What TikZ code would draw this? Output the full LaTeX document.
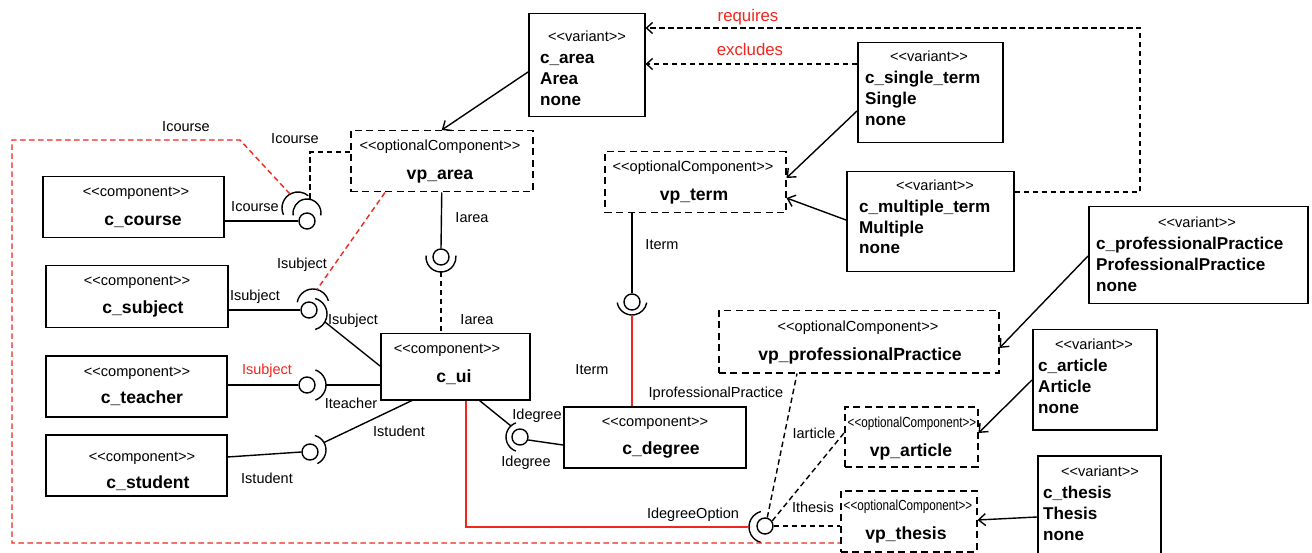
\documentclass[tikz,border=0pt]{standalone}
\usepackage{fontspec}
\usepackage{graphicx}
\setmainfont{Liberation Sans}[Ligatures=TeXOff]
\usetikzlibrary{arrows.meta}
\definecolor{relred}{RGB}{242,38,30}
\newcommand{\narrowtext}[1]{\scalebox{0.8}[1]{#1}}
\tikzset{
  boxbase/.style={draw, line width=1.5pt, inner sep=0pt, anchor=north west},
  solidbox/.style={boxbase},
  dashbox/.style={boxbase, dash pattern=on 7pt off 4.5pt},
  stereo/.style={font=\fontsize{14.6}{16}\selectfont, anchor=base, inner sep=0pt},
  cname/.style={font=\fontsize{17.6}{20}\selectfont\bfseries, anchor=base, inner sep=0pt},
  vline/.style={font=\fontsize{17.1}{20}\selectfont\bfseries, anchor=base west, inner sep=0pt},
  ilabel/.style={font=\fontsize{14.5}{16}\selectfont, anchor=base, inner sep=0pt},
  rlabel/.style={font=\fontsize{16.8}{19}\selectfont, anchor=base, inner sep=0pt, text=relred},
  ball/.style={circle, draw, line width=1.4pt, minimum size=16pt, inner sep=0pt, fill=white},
  wire/.style={line width=1.4pt},
  dwire/.style={wire, dash pattern=on 5.5pt off 3.5pt},
  rwire/.style={wire, draw=relred},
  rdwire/.style={dwire, draw=relred},
  socket/.style={line width=1.4pt},
  realize/.style={wire, -{Straight Barb[length=7pt,width=12pt,line width=1.4pt]}},
  constraint/.style={dwire, -{Straight Barb[length=6pt,width=11pt,line width=1.4pt]}},
}
\begin{document}
\begin{tikzpicture}[x=1pt, y=-1pt]
\useasboundingbox (0,0) rectangle (1312,553);
\fill[white] (0,0) rectangle (1312,553);

% ---- components ----
\node[solidbox, minimum width=181pt, minimum height=61pt] (course) at (42,176) {};
\node[stereo] (courseSt) at (136,197) {<<component>>};
\node[cname] (courseNm) at (143,226) {c\_course};

\node[solidbox, minimum width=182pt, minimum height=62pt] (subject) at (45,265) {};
\node[stereo] (subjectSt) at (137,286) {<<component>>};
\node[cname] (subjectNm) at (143,314) {c\_subject};

\node[solidbox, minimum width=181pt, minimum height=61pt] (teacher) at (45,355) {};
\node[stereo] (teacherSt) at (137,376) {<<component>>};
\node[cname] (teacherNm) at (142,403) {c\_teacher};

\node[solidbox, minimum width=181pt, minimum height=61pt] (student) at (45,434) {};
\node[stereo] (studentSt) at (142,461) {<<component>>};
\node[cname] (studentNm) at (148,488) {c\_student};

\node[solidbox, minimum width=149pt, minimum height=66pt] (ui) at (380,333) {};
\node[stereo] (uiSt) at (447,353) {<<component>>};
\node[cname] (uiNm) at (454,382) {c\_ui};

\node[solidbox, minimum width=182pt, minimum height=61pt] (degree) at (563,406) {};
\node[stereo] (degreeSt) at (655,426) {<<component>>};
\node[cname] (degreeNm) at (661,454) {c\_degree};

% ---- optional components ----
\node[dashbox, minimum width=182pt, minimum height=61pt] (area) at (350,130) {};
\node[stereo] (areaSt) at (440,151) {<<optionalComponent>>};
\node[cname] (areaNm) at (440,180) {vp\_area};

\node[dashbox, minimum width=181pt, minimum height=61pt] (term) at (604,151) {};
\node[stereo] (termSt) at (693,172) {<<optionalComponent>>};
\node[cname] (termNm) at (694,201) {vp\_term};

\node[dashbox, minimum width=280pt, minimum height=62pt] (prof) at (718,310) {};
\node[stereo] (profSt) at (858,332) {<<optionalComponent>>};
\node[cname] (profNm) at (860,360) {vp\_professionalPractice};

\node[dashbox, minimum width=133pt, minimum height=60pt] (article) at (844,406) {};
\node[stereo] (articleSt) at (912,427) {\narrowtext{<<optionalComponent>>}};
\node[cname] (articleNm) at (911,456) {vp\_article};

\node[dashbox, minimum width=136pt, minimum height=61pt] (thesis) at (840,490) {};
\node[stereo] (thesisSt) at (908,510) {\narrowtext{<<optionalComponent>>}};
\node[cname] (thesisNm) at (906,539) {vp\_thesis};

% ---- variants ----
\node[solidbox, minimum width=116pt, minimum height=103pt] (carea) at (528,13) {};
\node[stereo] (careaSt) at (587,42) {<<variant>>};
\node[vline] (careaA) at (540,64) {c\_area};
\node[vline] (careaB) at (540,85) {Area};
\node[vline] (careaC) at (540,106) {none};

\node[solidbox, minimum width=145pt, minimum height=100pt] (single) at (857,42) {};
\node[stereo] (singleSt) at (929,62) {<<variant>>};
\node[vline] (singleA) at (865,84) {c\_single\_term};
\node[vline] (singleB) at (865,105) {Single};
\node[vline] (singleC) at (865,126) {none};

\node[solidbox, minimum width=167pt, minimum height=100pt] (multiple) at (846,171) {};
\node[stereo] (multipleSt) at (935,191) {<<variant>>};
\node[vline] (multipleA) at (859,213) {c\_multiple\_term};
\node[vline] (multipleB) at (859,234) {Multiple};
\node[vline] (multipleC) at (859,254) {none};

\node[solidbox, minimum width=219pt, minimum height=97pt] (cprof) at (1088,206) {};
\node[stereo] (cprofSt) at (1197,228) {<<variant>>};
\node[vline] (cprofA) at (1096,250) {c\_professionalPractice};
\node[vline] (cprofB) at (1096,271) {ProfessionalPractice};
\node[vline] (cprofC) at (1096,292) {none};

\node[solidbox, minimum width=124pt, minimum height=100pt] (carticle) at (1032,329) {};
\node[stereo] (carticleSt) at (1094,349) {<<variant>>};
\node[vline] (carticleA) at (1038,371) {c\_article};
\node[vline] (carticleB) at (1038,392) {Article};
\node[vline] (carticleC) at (1038,413) {none};

\node[solidbox, minimum width=123pt, minimum height=101pt] (cthesis) at (1037,455) {};
\node[stereo] (cthesisSt) at (1100,476) {<<variant>>};
\node[vline] (cthesisA) at (1043,498) {c\_thesis};
\node[vline] (cthesisB) at (1043,519) {Thesis};
\node[vline] (cthesisC) at (1043,540) {none};

% ---- provided interfaces (balls) ----
\node[ball] (bCourse) at (307,221) {};
\node[ball] (bSubject) at (309,310) {};
\node[ball] (bTeacher) at (307,385) {};
\node[ball] (bStudent) at (310,452) {};
\node[ball] (bArea) at (441,257) {};
\node[ball] (bTerm) at (632,302) {};
\node[ball] (bDegree) at (520,437) {};
\node[ball] (bOption) at (765,526) {};

% ---- required interfaces (sockets) and their end points ----
\draw[socket] (307,213) ++(-190:14) arc[start angle=-190, end angle=10, radius=14];
\coordinate (sCourseA) at (310.1,199.4);
\draw[socket] (298,208) ++(-205:16) arc[start angle=-205, end angle=-50, radius=16];
\coordinate (sCourseB) at (290,194);
\draw[socket] (313,305) ++(-170:16) arc[start angle=-170, end angle=-15, radius=16];
\coordinate (sSubjA) at (317,289.5);
\draw[socket] (311,314) ++(-75:16) arc[start angle=-75, end angle=75, radius=16];
\coordinate (sSubjB) at (325,322);
\draw[socket] (310,385) ++(-70:16) arc[start angle=-70, end angle=70, radius=16];
\coordinate (sTeach) at (326,385);
\draw[socket] (311,450) ++(-75:15) arc[start angle=-75, end angle=65, radius=15];
\coordinate (sStud) at (324,442.5);
\draw[socket] (441,257) ++(-175:15) arc[start angle=-175, end angle=-365, radius=15];
\coordinate (sArea) at (441,272);
\draw[socket] (632,300) ++(-190:15) arc[start angle=-190, end angle=-350, radius=15];
\coordinate (sTerm) at (632,315);
\draw[socket] (521,437) ++(-110:15) arc[start angle=-110, end angle=-250, radius=15];
\coordinate (sDeg) at (511,426);
\draw[socket] (765,527) ++(-105:16) arc[start angle=-105, end angle=-255, radius=16];
\coordinate (sOpt) at (749,527);

% ---- assembly connectors ----
\draw[wire] (course.east |- bCourse) -- (bCourse.west);
\draw[dwire] (area.west |- 0,152) -| (sCourseA);
\coordinate (loopA) at (240,140);
\coordinate (loopB) at (12,140);
\coordinate (loopC) at (12,543);
\draw[rdwire] (sCourseB) -- (loopA) -- (loopB) -- (loopC) -- (thesis.west |- loopC);

\draw[wire] (subject.east |- bSubject) -- (bSubject.west);
\draw[rdwire] ([xshift=35pt]area.south west) -- (sSubjA);
\draw[wire] (sSubjB) -- (ui.west |- 0,366);

\draw[wire] (teacher.east |- bTeacher) -- (bTeacher.west);
\draw[wire] (sTeach) -- (ui.west |- sTeach);

\draw[wire] (student.east |- 0,457) -- (bStudent.west);
\draw[wire] (sStud) -- ([xshift=32pt]ui.south west);

\draw[wire] (area.south) -- (bArea.north);
\draw[dwire] (sArea) -- (ui.north -| sArea);

\draw[wire] (term.south -| bTerm) -- (bTerm.north);
\draw[rwire] (sTerm) -- (degree.north -| sTerm);

\draw[wire] (bDegree.-20) -- (degree.west |- 0,445);
\draw[wire] ([xshift=-51pt]ui.south east) -- (sDeg);

\draw[rwire] (ui.south -| 466,0) |- (sOpt);
\draw[dwire] (bOption.75) -- ([xshift=79pt]prof.south west);
\draw[dwire] (bOption.35) -- (article.west |- 0,433);
\draw[dwire] (bOption.east) -- (thesis.west |- bOption);

% ---- variant realisations ----
\draw[realize] (carea.west |- 0,72) -- (area.north);
\draw[realize] (single.west |- 0,111) -- (term.east |- 0,178);
\draw[realize] (multiple.west |- 0,220) -- (term.east |- 0,198);
\draw[realize] (cprof.west |- 0,256) -- (prof.east |- 0,348);
\draw[realize] (carticle.west |- 0,380) -- (article.east |- 0,433);
\draw[realize] (cthesis.west |- 0,517) -- (thesis.east |- 0,520);

% ---- variant constraints ----
\coordinate (reqA) at (1140,192);
\coordinate (reqB) at (1140,28);
\draw[constraint] (multiple.east |- reqA) -- (reqA) -- (reqB) -- (carea.east |- reqB);
\draw[constraint] (single.west |- 0,64) -- (carea.east |- 0,64);
\node[rlabel] (lReq) at (748,22) {requires};
\node[rlabel] (lExc) at (750,56) {excludes};

% ---- interface labels ----
\node[ilabel] (lCourse1) at (186,132) {Icourse};
\node[ilabel] (lCourse2) at (295,144) {Icourse};
\node[ilabel] (lCourse3) at (255,212) {Icourse};
\node[ilabel] (lSubj1) at (302,269) {Isubject};
\node[ilabel] (lSubj2) at (255,301) {Isubject};
\node[ilabel] (lSubj3) at (353,324) {Isubject};
\node[ilabel, text=relred] (lSubj4) at (267,374) {Isubject};
\node[ilabel] (lTeach) at (351,408) {Iteacher};
\node[ilabel] (lStud1) at (399,436) {Istudent};
\node[ilabel] (lStud2) at (267,483) {Istudent};
\node[ilabel] (lArea1) at (472,223) {Iarea};
\node[ilabel] (lArea2) at (477,324) {Iarea};
\node[ilabel] (lTerm1) at (662,250) {Iterm};
\node[ilabel] (lTerm2) at (592,374) {Iterm};
\node[ilabel] (lProf) at (716,397) {IprofessionalPractice};
\node[ilabel] (lDeg1) at (537,419) {Idegree};
\node[ilabel] (lDeg2) at (526,466) {Idegree};
\node[ilabel] (lOpt) at (693,518) {IdegreeOption};
\node[ilabel] (lArt) at (814,438) {Iarticle};
\node[ilabel] (lThe) at (813,512) {Ithesis};
\end{tikzpicture}
\end{document}
